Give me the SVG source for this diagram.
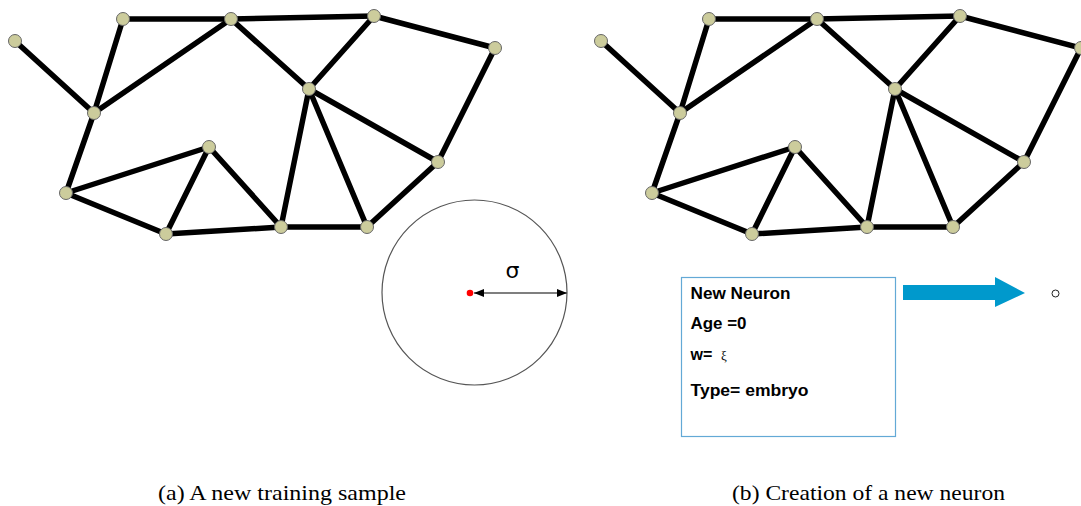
<svg xmlns="http://www.w3.org/2000/svg" width="1081" height="506" viewBox="0 0 1081 506">
<style>
.edge{stroke:#000;stroke-width:5.5;stroke-linecap:round}
.node{fill:#cccc9c;stroke:#666;stroke-width:1}
.cap{font-family:"Liberation Serif","Times New Roman",serif;font-size:22px;fill:#000}
.bx{font-family:"Liberation Sans",Arial,sans-serif;font-size:16px;font-weight:bold;fill:#000}
</style>
<defs>
<marker id="ah" viewBox="0 0 10 8" refX="10" refY="4" markerWidth="10" markerHeight="8" markerUnits="userSpaceOnUse" orient="auto-start-reverse">
<path d="M0,0 L10,4 L0,8 z" fill="#000"/>
</marker>
</defs>
<rect width="1081" height="506" fill="#fff"/>

<!-- Left graph -->
<g id="graph-a">
<g id="connectors-a">
<line class="edge" x1="15" y1="41" x2="94" y2="113"/>
<line class="edge" x1="123" y1="19" x2="94" y2="113"/>
<line class="edge" x1="123" y1="19" x2="231" y2="19"/>
<line class="edge" x1="231" y1="19" x2="374" y2="16"/>
<line class="edge" x1="231" y1="19" x2="94" y2="113"/>
<line class="edge" x1="231" y1="19" x2="309" y2="89"/>
<line class="edge" x1="374" y1="16" x2="309" y2="89"/>
<line class="edge" x1="374" y1="16" x2="495" y2="48"/>
<line class="edge" x1="495" y1="48" x2="438" y2="162"/>
<line class="edge" x1="309" y1="89" x2="438" y2="162"/>
<line class="edge" x1="309" y1="89" x2="281" y2="227"/>
<line class="edge" x1="309" y1="89" x2="367" y2="227"/>
<line class="edge" x1="438" y1="162" x2="367" y2="227"/>
<line class="edge" x1="94" y1="113" x2="66" y2="193"/>
<line class="edge" x1="66" y1="193" x2="209" y2="147"/>
<line class="edge" x1="66" y1="193" x2="166" y2="234"/>
<line class="edge" x1="166" y1="234" x2="209" y2="147"/>
<line class="edge" x1="209" y1="147" x2="281" y2="227"/>
<line class="edge" x1="166" y1="234" x2="281" y2="227"/>
<line class="edge" x1="281" y1="227" x2="367" y2="227"/>
</g>
<g id="a-nA"><circle class="node" cx="15" cy="41" r="6.5"/></g>
<g id="a-nB"><circle class="node" cx="123" cy="19" r="6.5"/></g>
<g id="a-nC"><circle class="node" cx="231" cy="19" r="6.5"/></g>
<g id="a-nD"><circle class="node" cx="374" cy="16" r="6.5"/></g>
<g id="a-nE"><circle class="node" cx="495" cy="48" r="6.5"/></g>
<g id="a-nF"><circle class="node" cx="94" cy="113" r="6.5"/></g>
<g id="a-nG"><circle class="node" cx="309" cy="89" r="6.5"/></g>
<g id="a-nH"><circle class="node" cx="209" cy="147" r="6.5"/></g>
<g id="a-nI"><circle class="node" cx="438" cy="162" r="6.5"/></g>
<g id="a-nJ"><circle class="node" cx="66" cy="193" r="6.5"/></g>
<g id="a-nK"><circle class="node" cx="166" cy="234" r="6.5"/></g>
<g id="a-nL"><circle class="node" cx="281" cy="227" r="6.5"/></g>
<g id="a-nM"><circle class="node" cx="367" cy="227" r="6.5"/></g>
</g>

<!-- Sample circle -->
<g id="sample">
<circle cx="474.5" cy="292.5" r="92.5" fill="none" stroke="#555" stroke-width="1.2"/>
<line x1="474" y1="293" x2="567" y2="293" stroke="#555" stroke-width="1.5" marker-start="url(#ah)" marker-end="url(#ah)"/>
<circle cx="470" cy="293" r="3.3" fill="#f00"/>
<text x="512.5" y="278" text-anchor="middle" font-family="'DejaVu Sans',sans-serif" font-size="22" fill="#000">σ</text>
</g>

<!-- Right graph -->
<g id="graph-b" transform="translate(586,0)">
<g id="connectors-b">
<line class="edge" x1="15" y1="41" x2="94" y2="113"/>
<line class="edge" x1="123" y1="19" x2="94" y2="113"/>
<line class="edge" x1="123" y1="19" x2="231" y2="19"/>
<line class="edge" x1="231" y1="19" x2="374" y2="16"/>
<line class="edge" x1="231" y1="19" x2="94" y2="113"/>
<line class="edge" x1="231" y1="19" x2="309" y2="89"/>
<line class="edge" x1="374" y1="16" x2="309" y2="89"/>
<line class="edge" x1="374" y1="16" x2="495" y2="48"/>
<line class="edge" x1="495" y1="48" x2="438" y2="162"/>
<line class="edge" x1="309" y1="89" x2="438" y2="162"/>
<line class="edge" x1="309" y1="89" x2="281" y2="227"/>
<line class="edge" x1="309" y1="89" x2="367" y2="227"/>
<line class="edge" x1="438" y1="162" x2="367" y2="227"/>
<line class="edge" x1="94" y1="113" x2="66" y2="193"/>
<line class="edge" x1="66" y1="193" x2="209" y2="147"/>
<line class="edge" x1="66" y1="193" x2="166" y2="234"/>
<line class="edge" x1="166" y1="234" x2="209" y2="147"/>
<line class="edge" x1="209" y1="147" x2="281" y2="227"/>
<line class="edge" x1="166" y1="234" x2="281" y2="227"/>
<line class="edge" x1="281" y1="227" x2="367" y2="227"/>
</g>
<g id="b-nA"><circle class="node" cx="15" cy="41" r="6.5"/></g>
<g id="b-nB"><circle class="node" cx="123" cy="19" r="6.5"/></g>
<g id="b-nC"><circle class="node" cx="231" cy="19" r="6.5"/></g>
<g id="b-nD"><circle class="node" cx="374" cy="16" r="6.5"/></g>
<g id="b-nE"><circle class="node" cx="495" cy="48" r="6.5"/></g>
<g id="b-nF"><circle class="node" cx="94" cy="113" r="6.5"/></g>
<g id="b-nG"><circle class="node" cx="309" cy="89" r="6.5"/></g>
<g id="b-nH"><circle class="node" cx="209" cy="147" r="6.5"/></g>
<g id="b-nI"><circle class="node" cx="438" cy="162" r="6.5"/></g>
<g id="b-nJ"><circle class="node" cx="66" cy="193" r="6.5"/></g>
<g id="b-nK"><circle class="node" cx="166" cy="234" r="6.5"/></g>
<g id="b-nL"><circle class="node" cx="281" cy="227" r="6.5"/></g>
<g id="b-nM"><circle class="node" cx="367" cy="227" r="6.5"/></g>
</g>

<!-- New neuron info box -->
<g id="info-box">
<rect x="681.5" y="277.5" width="214" height="159" fill="#fff" stroke="#63a9d6" stroke-width="1.2"/>
<text class="bx" x="690.5" y="299" textLength="100" lengthAdjust="spacingAndGlyphs">New Neuron</text>
<text class="bx" x="690.5" y="329" textLength="56" lengthAdjust="spacingAndGlyphs">Age =0</text>
<text class="bx" x="690.5" y="360">w=<tspan x="721" font-weight="normal" font-size="13" font-family="'Liberation Serif',serif">ξ</tspan></text>
<text class="bx" x="690.5" y="396" textLength="118" lengthAdjust="spacingAndGlyphs">Type= embryo</text>
</g>

<g id="blue-arrow">
<polygon points="903,285 995,285 995,277 1025,293 995,307 995,300 903,300" fill="#0099cc"/>
</g>

<g id="new-neuron">
<circle cx="1055.5" cy="293.5" r="3.5" fill="#fff" stroke="#222" stroke-width="1"/>
</g>

<text class="cap" x="158" y="500" textLength="248" lengthAdjust="spacingAndGlyphs">(a) A new training sample</text>
<text class="cap" x="732" y="500" textLength="273" lengthAdjust="spacingAndGlyphs">(b) Creation of a new neuron</text>
</svg>
